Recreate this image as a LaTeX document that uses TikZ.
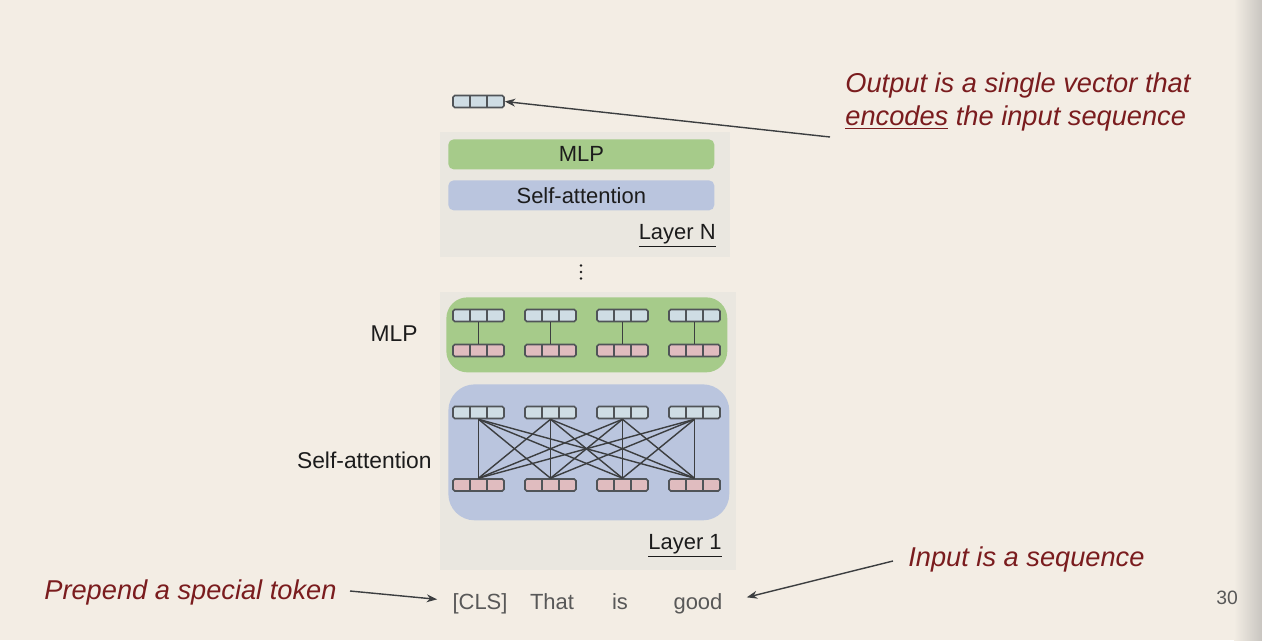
\documentclass[tikz,border=0pt]{standalone}
\usepackage{fontspec}
\setmainfont{Liberation Sans}
\usepackage{xcolor}
\definecolor{bg-100}{RGB}{243,237,228}
\definecolor{edge-400}{RGB}{200,197,192}
\definecolor{layer-200}{RGB}{234,231,224}
\definecolor{mlp-green}{RGB}{166,203,138}
\definecolor{attn-blue}{RGB}{186,197,222}
\definecolor{vec-blue}{RGB}{207,221,228}
\definecolor{vec-pink}{RGB}{224,188,191}
\definecolor{vec-line}{RGB}{80,84,88}
\definecolor{link-700}{RGB}{60,62,64}
\definecolor{note-red}{RGB}{122,28,30}
\definecolor{ink-900}{RGB}{28,28,28}
\definecolor{token-600}{RGB}{88,88,88}
\usetikzlibrary{arrows.meta,calc,positioning}

\tikzset{
    vec/.style={
        draw=vec-line, line width=0.9pt, rounded corners=1pt,
        minimum width=1.02cm, minimum height=0.24cm,
        path picture={
            \foreach \f in {0.3333,0.6667}
                \draw[vec-line, line width=0.7pt]
                    ($(path picture bounding box.south west)!\f!(path picture bounding box.south east)$) --
                    ($(path picture bounding box.north west)!\f!(path picture bounding box.north east)$);
        }
    },
    vectop/.style={vec, fill=vec-blue},
    vecbot/.style={vec, fill=vec-pink},
    layerbox/.style={fill=layer-200, anchor=north west},
    bar/.style={anchor=north west, rounded corners=3pt, minimum width=5.32cm, minimum height=0.6cm,
        font=\fontsize{12.5}{15}\selectfont, text=ink-900},
    link/.style={draw=link-700, line width=0.8pt},
    pointer/.style={draw=link-700, line width=0.8pt, -{Stealth[length=6pt,width=4.5pt]}},
    note/.style={font=\fontsize{15.5}{19}\selectfont\itshape, text=note-red},
    sidelabel/.style={font=\fontsize{13}{16}\selectfont, text=ink-900, anchor=east},
    token/.style={font=\fontsize{12.5}{15}\selectfont, text=token-600, anchor=base},
    layername/.style={font=\fontsize{12.5}{15}\selectfont, text=ink-900, anchor=base east}
}

\begin{document}
\begin{tikzpicture}[
    x=0.02cm, y=-0.02cm,
    every node/.style={inner sep=0pt}
]

% Slide background
\fill[bg-100] (0,0) rectangle (1262,640);
\useasboundingbox (0,0) rectangle (1262,640);
\shade[left color=bg-100, right color=edge-400] (1234,0) rectangle (1262,640);

% Layer N
\node[layerbox, minimum width=5.8cm, minimum height=2.5cm] (layerN) at (440,132) {};
\node[bar, fill=mlp-green] (mlpN) at (448,139) {MLP};
\node[bar, fill=attn-blue] (attnN) at (448,180) {Self-attention};
\node[layername] (nameN) at (716,239) {\underline{Layer N}};

% Output vector
\node[vectop] (out) at (478.5,101.5) {};

% Dots between layers
\foreach \y in {265.5,272,278.5}
    \fill[ink-900] (581,\y) circle[radius=0.028cm];

% Layer 1
\node[layerbox, minimum width=5.92cm, minimum height=5.56cm] (layer1) at (440,292) {};
\node[layerbox, fill=mlp-green, rounded corners=12pt, minimum width=5.62cm, minimum height=1.5cm] (mlp1) at (446,297) {};
\node[layerbox, fill=attn-blue, rounded corners=15pt, minimum width=5.62cm, minimum height=2.72cm] (attn1) at (448,384) {};
\node[layername] (name1) at (722,549) {\underline{Layer 1}};

% Token vectors
\foreach \i/\x in {1/478.5,2/550.5,3/622.5,4/694.5} {
    \node[vectop] (mtop\i) at (\x,315.5) {};
    \node[vecbot] (mbot\i) at (\x,350.5) {};
    \draw[link] (mtop\i) -- (mbot\i);
    \node[vectop] (atop\i) at (\x,412.5) {};
    \node[vecbot] (abot\i) at (\x,485) {};
}

% All-to-all attention links
\foreach \i in {1,...,4}
    \foreach \j in {1,...,4}
        \draw[link] (atop\i.south) -- (abot\j.north);

% Side labels
\node[sidelabel] (mlplabel) at (418,334) {MLP};
\node[sidelabel] (attnlabel) at (432,460) {Self-attention};

% Input tokens
\node[token] (tok1) at (480,609) {[CLS]};
\node[token] (tok2) at (552,609) {That};
\node[token] (tok3) at (620,609) {is};
\node[token] (tok4) at (698,609) {good};

% Notes
\node[note, anchor=base west] (prepend) at (44,599) {Prepend a special token};
\node[note, anchor=base west] (input) at (908,566) {Input is a sequence};
\node[note, anchor=north west, align=left] (output) at (845,72) {Output is a single vector that\\\underline{encodes} the input sequence};

\coordinate (prependtail) at (350,591);
\coordinate (inputtail) at (893,561);
\coordinate (outputtail) at (830,137);

\draw[pointer] (prependtail) -- ([xshift=-0.3cm, yshift=0.08cm]tok1.west);
\draw[pointer] (inputtail) -- ([xshift=0.48cm, yshift=0.12cm]tok4.east);
\draw[pointer] (outputtail) -- (out.east);

% Slide number
\node[font=\fontsize{11}{13}\selectfont, text=token-600] (pagenum) at (1227,598) {30};

\end{tikzpicture}
\end{document}
